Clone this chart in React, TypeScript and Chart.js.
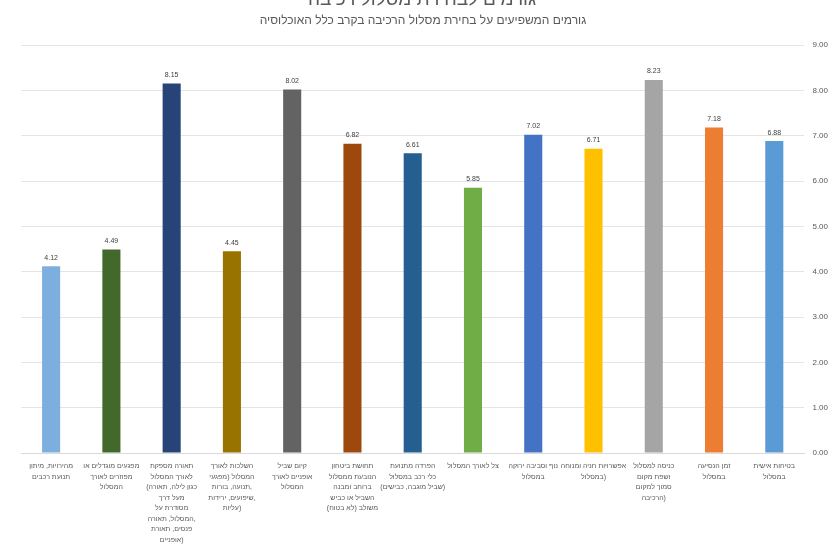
import React, { useEffect, useRef } from "react";
import { Chart, registerables } from "chart.js";

Chart.register(...registerables);

// Factors, listed left to right as they appear on the axis
const categories: string[][] = [
  ["מהירויות, מיתון", "תנועת רכבים"],
  ["מפגעים מוגדלים או", "מפוזרים לאורך", "המסלול"],
  ["תאורה מספקת", "לאורך המסלול", "(כגון לילה, תאורה", "מעל דרך", "מסודרת על", "המסלול, תאורה,", "פנסים, תאורת", "אופניים)"],
  ["השלכות לאורך", "המסלול (מפגעי", "תנועה, בורות,", "שיפועים, ירידות,", "עליות)"],
  ["קיום שביל", "אופניים לאורך", "המסלול"],
  ["תחושת ביטחון", "הנובעת ממסלול", "ברוחב ומבנה", "השביל או כביש", "משולב (לא בטוח)"],
  ["הפרדה מתנועת", "כלי רכב במסלול", "(שביל מוגבה, כבישים)"],
  ["צל לאורך המסלול"],
  ["נוף וסביבה ירוקה", "במסלול"],
  ["אפשרויות חניה ומנוחה", "במסלול)"],
  ["כניסה למסלול", "ושפת מקום", "סמוך למקום", "הרכיבה)"],
  ["זמן הנסיעה", "במסלול"],
  ["בטיחות אישית", "במסלול"],
];

const values: number[] = [4.12, 4.49, 8.15, 4.45, 8.02, 6.82, 6.61, 5.85, 7.02, 6.71, 8.23, 7.18, 6.88];

const barColors: string[] = [
  "#7cafdd", "#43682b", "#264478", "#997300", "#636363", "#9e480e", "#255e91",
  "#70ad47", "#4472c4", "#ffc000", "#a5a5a5", "#ed7d31", "#5b9bd5",
];

const yMin = 0;
const yMax = 9;
const yStep = 1;

const chartTitle = "גורמים לבחירת מסלול רכיבה";
const chartSubtitle = "גורמים המשפיעים על בחירת מסלול הרכיבה בקרב כלל האוכלוסיה";

const FONT = "'Liberation Sans', 'DejaVu Sans', sans-serif";

const titlesPlugin = {
  id: "titles",
  afterDraw(chart: Chart) {
    const { ctx, width } = chart;
    ctx.save();
    ctx.textAlign = "center";
    ctx.direction = "rtl";
    ctx.fillStyle = "#595959";
    ctx.font = `19px ${FONT}`;
    ctx.textBaseline = "alphabetic";
    ctx.fillText(chartTitle, width / 2 + 4, 5);
    ctx.font = `12px ${FONT}`;
    ctx.textBaseline = "middle";
    ctx.fillText(chartSubtitle, width / 2 + 5, 21);
    ctx.restore();
  },
};

const valueLabelsPlugin = {
  id: "valueLabels",
  afterDatasetsDraw(chart: Chart) {
    const { ctx } = chart;
    const meta = chart.getDatasetMeta(0);
    const data = chart.data.datasets[0].data as number[];
    ctx.save();
    ctx.font = `7px ${FONT}`;
    ctx.fillStyle = "#404040";
    ctx.textAlign = "center";
    ctx.textBaseline = "bottom";
    meta.data.forEach((el: any, i: number) => {
      ctx.fillText(data[i].toFixed(2), el.x, el.y - 5);
    });
    ctx.restore();
  },
};

export default function App() {
  const canvasRef = useRef<HTMLCanvasElement | null>(null);

  useEffect(() => {
    document.body.style.margin = "0";
    const canvas = canvasRef.current;
    if (!canvas) return;
    const chart = new Chart(canvas, {
      type: "bar",
      data: {
        labels: categories,
        datasets: [
          {
            data: values,
            backgroundColor: barColors,
            borderWidth: 0,
            barPercentage: 0.3,
            categoryPercentage: 1,
          },
        ],
      },
      options: {
        responsive: true,
        maintainAspectRatio: false,
        animation: false,
        layout: { padding: { top: 45, left: 21, right: 0, bottom: 1 } },
        plugins: {
          legend: { display: false },
          tooltip: { enabled: false },
          title: { display: false },
        },
        scales: {
          x: {
            grid: { display: false },
            border: { display: true, color: "#d9d9d9" },
            ticks: {
              autoSkip: false,
              maxRotation: 0,
              minRotation: 0,
              padding: 0,
              color: "#595959",
              font: { family: FONT, size: 7, lineHeight: 1.5 },
            },
          },
          y: {
            position: "right",
            min: yMin,
            max: yMax,
            grid: { color: "#e4e4e4", drawTicks: false },
            border: { display: false },
            ticks: {
              stepSize: yStep,
              padding: 8,
              color: "#595959",
              font: { family: FONT, size: 8 },
              callback: (v: any) => Number(v).toFixed(2),
            },
          },
        },
      },
      plugins: [titlesPlugin, valueLabelsPlugin],
    });
    return () => chart.destroy();
  }, []);

  return (
    <div style={{ position: "fixed", left: 0, top: 0, width: 836, height: 546, background: "#fff" }}>
      <canvas ref={canvasRef} />
    </div>
  );
}
